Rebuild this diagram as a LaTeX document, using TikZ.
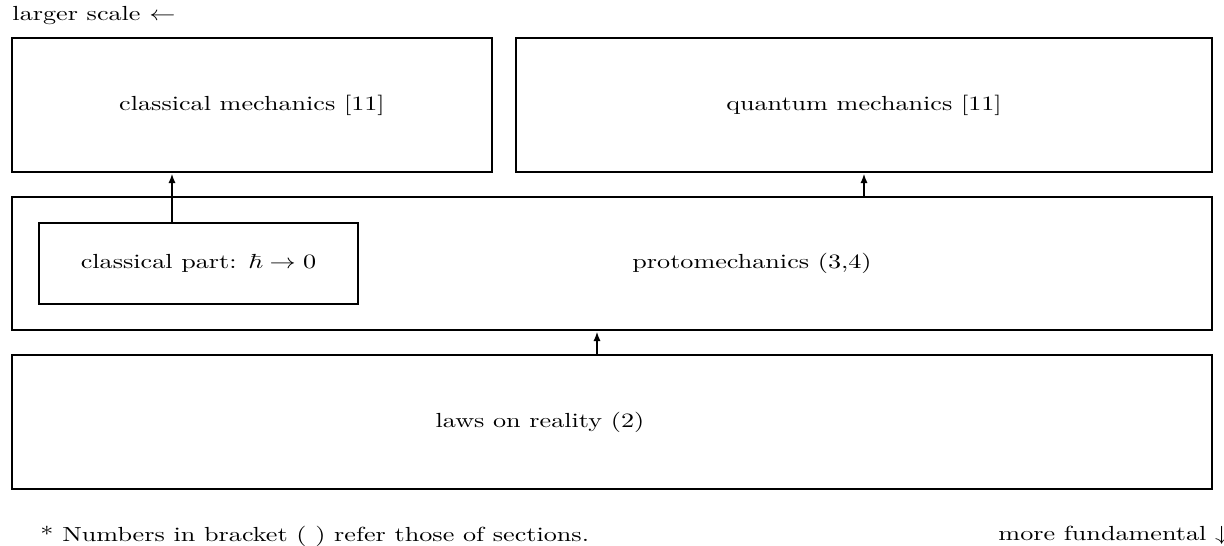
\documentclass[tikz,border=0pt]{standalone}
\usepackage{amsmath, amssymb}
\usepackage{tikz}
\usetikzlibrary{arrows.meta, positioning}

\def\u{0.01465cm}
\newcommand{\txt}[1]{\scalebox{1.09}[0.85]{#1}}
\tikzset{
    box/.style={draw, line width=1.2pt, rectangle, inner sep=0pt},
    arr/.style={line width=0.8pt, -{Latex[length=4pt, width=3pt]}}
}

\begin{document}
\begin{tikzpicture}[x=0.01465cm, y=-0.01465cm]
    \useasboundingbox (0,0) rectangle (1224,546);

    % Các khối
    \node[box, minimum width=480*\u, minimum height=134*\u] (cm) at (252,105) {};
    \node[box, minimum width=696*\u, minimum height=134*\u] (qm) at (864,105) {};
    \node[box, minimum width=1200*\u, minimum height=133*\u] (proto) at (612,263.5) {};
    \node[box, minimum width=319*\u, minimum height=81*\u] (cpart) at (198.5,263.5) {};
    \node[box, minimum width=1200*\u, minimum height=134*\u] (laws) at (612,422) {};

    % Chữ trong khối
    \node (cmtxt) at (cm) {\txt{classical mechanics [11]}};
    \node (qmtxt) at (qm) {\txt{quantum mechanics [11]}};
    \node (cptxt) at (cpart) {\txt{classical part: $\hbar \to 0$}};
    \node (prtxt) at (752,263.5) {\txt{protomechanics (3,4)}};
    \node (lwtxt) at (540,422) {\txt{laws on reality (2)}};

    % Mũi tên
    \draw[arr] (cpart.north -| 172,0) -- (cm.south -| 172,0);
    \draw[arr] (proto.north -| qm.south) -- (qm.south);
    \draw[arr] (laws.north -| 597,0) -- (proto.south -| 597,0);

    % Ghi chú
    \node[anchor=base west, inner sep=0pt] (larger) at (12,21) {\txt{larger scale $\leftarrow$}};
    \node[anchor=base west, inner sep=0pt] (note) at (40,541) {\txt{* Numbers in bracket ( ) refer those of sections.}};
    \node[anchor=base west, inner sep=0pt] (fund) at (998,540) {\txt{more fundamental $\downarrow$}};
\end{tikzpicture}
\end{document}
